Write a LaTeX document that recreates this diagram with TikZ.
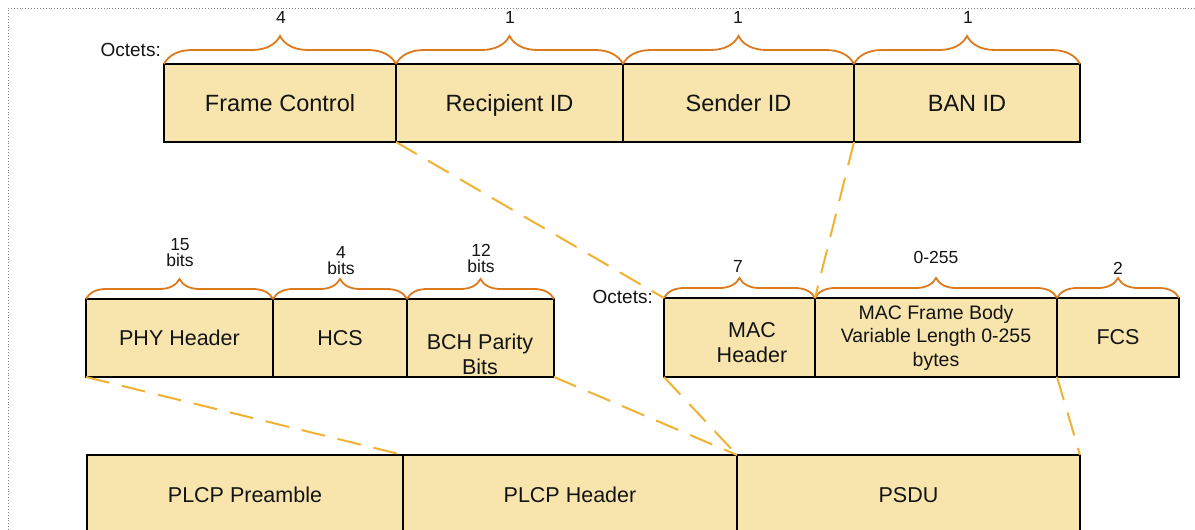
\documentclass[tikz,border=0pt]{standalone}
\usepackage{fontspec}
\setmainfont{Liberation Sans}
\usetikzlibrary{decorations.pathreplacing}
\definecolor{boxfill}{HTML}{F7E5AD}
\definecolor{bracecol}{HTML}{DD7A1E}
\definecolor{dashcol}{HTML}{F0B232}
\definecolor{txt}{HTML}{141414}
\begin{document}
\begin{tikzpicture}[x=1pt,y=-1pt,
  field/.style={draw=black, line width=2pt, fill=boxfill, anchor=north west,
    inner sep=0pt, outer sep=0pt, align=center, text=txt},
  fieldtext/.style={inner sep=0pt, align=center, text=txt},
  lbl/.style={inner sep=0pt, align=center, text=txt},
  bigbrace/.style={draw=bracecol, line width=1.8pt, decorate,
    decoration={brace, amplitude=28pt}},
  smallbrace/.style={draw=bracecol, line width=1.8pt, decorate,
    decoration={brace, amplitude=20pt}},
  link/.style={draw=dashcol, line width=2pt, dash pattern=on 24pt off 13pt},
  frameline/.style={draw=gray, line width=0.9pt, dotted},
  ftop/.style={font=\fontsize{23.5}{27}\selectfont, text height=19pt, text depth=2pt},
  fmid/.style={font=\fontsize{21.5}{25}\selectfont},
  fbody/.style={font=\fontsize{19.5}{23.5}\selectfont},
  fsmall/.style={font=\fontsize{17.5}{16}\selectfont},
  foct/.style={font=\fontsize{19}{22}\selectfont}
]
\useasboundingbox (0,0) rectangle (1195,530);
\fill[white] (0,0) rectangle (1195,530);
\draw[frameline] (8,530) -- (8,8) -- (1195,8);

% top row
\node[field, ftop, minimum width=232pt, minimum height=78pt] (fc)  at (164,64) {Frame Control};
\node[field, ftop, minimum width=227pt, minimum height=78pt] (rid) at (396,64) {Recipient ID};
\node[field, ftop, minimum width=231pt, minimum height=78pt] (sid) at (623,64) {Sender ID};
\node[field, ftop, minimum width=226pt, minimum height=78pt] (ban) at (854,64) {BAN ID};

% middle left
\node[field, fmid, minimum width=187pt, minimum height=78pt] (phy) at (86,299) {PHY Header};
\node[field, fmid, minimum width=134pt, minimum height=78pt] (hcs) at (273,299) {HCS};
\node[field, minimum width=147pt, minimum height=78pt] (bch) at (407,299) {};
\node[fieldtext, fmid] (bcht) at (480,354) {BCH Parity\\Bits};

% middle right
\node[field, minimum width=151pt, minimum height=79pt] (mach) at (664,298) {};
\node[fieldtext, fmid] (macht) at (752,343) {MAC\\Header};
\node[field, fbody, minimum width=242pt, minimum height=79pt] (body) at (815,298) {MAC Frame Body\\Variable Length 0-255\\bytes};
\node[field, fmid, minimum width=122pt, minimum height=79pt] (fcs) at (1057,298) {FCS};

% bottom row
\node[field, fmid, minimum width=316pt, minimum height=80pt] (pre)  at (87,455) {PLCP Preamble};
\node[field, fmid, minimum width=334pt, minimum height=80pt] (plh)  at (403,455) {PLCP Header};
\node[field, fmid, minimum width=343pt, minimum height=80pt] (psdu) at (737,455) {PSDU};

% braces
\draw[bigbrace] (fc.north west) -- (fc.north east);
\draw[bigbrace] (rid.north west) -- (rid.north east);
\draw[bigbrace] (sid.north west) -- (sid.north east);
\draw[bigbrace] (ban.north west) -- (ban.north east);
\draw[smallbrace] (phy.north west) -- (phy.north east);
\draw[smallbrace] (hcs.north west) -- (hcs.north east);
\draw[smallbrace] (bch.north west) -- (bch.north east);
\draw[smallbrace] (mach.north west) -- (mach.north east);
\draw[smallbrace] (body.north west) -- (body.north east);
\draw[smallbrace] (fcs.north west) -- (fcs.north east);

% labels
\node[lbl, foct, anchor=east] (oct1) at (161,50) {Octets:};
\node[lbl, foct, anchor=east] (oct2) at (653,297) {Octets:};
\node[lbl, fsmall] (lfc)  at (281,17) {4};
\node[lbl, fsmall] (lrid) at (510,17) {1};
\node[lbl, fsmall] (lsid) at (738,17) {1};
\node[lbl, fsmall] (lban) at (968,17) {1};
\node[lbl, fsmall] (lphy) at (180,253) {15\\bits};
\node[lbl, fsmall] (lhcs) at (341,261) {4\\bits};
\node[lbl, fsmall] (lbch) at (481,258) {12\\bits};
\node[lbl, fsmall] (lmac) at (738,266) {7};
\node[lbl, fsmall] (lbody) at (936,257) {0-255};
\node[lbl, fsmall] (lfcs) at (1118,268) {2};

% dashed connectors
\draw[link] (fc.south east) -- (mach.north west);
\draw[link] (ban.south west) -- (mach.north east);
\draw[link] (phy.south west) -- (plh.north west);
\draw[link] (bch.south east) -- (psdu.north west);
\draw[link] (mach.south west) -- (psdu.north west);
\draw[link] (fcs.south west) -- (psdu.north east);
\end{tikzpicture}
\end{document}
